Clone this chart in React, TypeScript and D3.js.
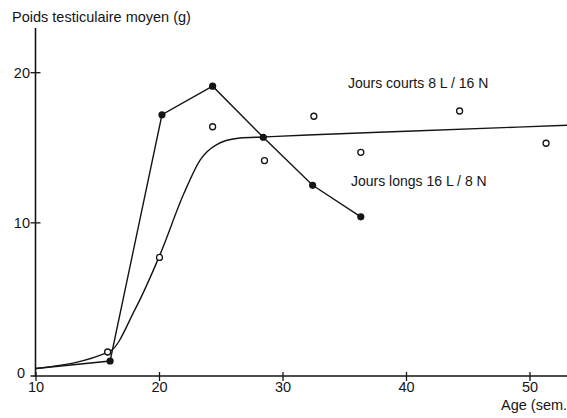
import React from "react";
import * as d3 from "d3";

const W = 567;
const H = 418;

// Long days 16 L / 8 N (filled points, polyline)
const longAges = [16, 20.2, 24.3, 28.4, 32.4, 36.3];
const longValues = [0.8, 17.2, 19.1, 15.7, 12.5, 10.4];
const longStart = { age: 10, value: 0.3 };

// Short days 8 L / 16 N (open points)
const shortAges = [15.8, 20.0, 24.3, 28.5, 32.5, 36.3, 44.3, 51.3];
const shortValues = [1.4, 7.7, 16.4, 14.15, 17.1, 14.7, 17.45, 15.3];

// Fitted curve for short days
const curveAges = [10, 16, 18, 20, 22, 23.3, 24.6, 26.5, 28.4, 32, 40, 53];
const curveValues = [0.3, 1.45, 4.2, 7.8, 12.0, 14.2, 15.2, 15.65, 15.72, 15.85, 16.1, 16.5];

const xTicks = [10, 20, 30, 40, 50];
const yTicks = [0, 10, 20];

const title = "Poids testiculaire moyen (g)";
const xTitle = "Age (sem.";
const labelShort = "Jours courts 8 L / 16 N";
const labelLong = "Jours longs 16 L / 8 N";

export default function App() {
  const x = d3.scaleLinear().domain([10, 50]).range([36, 530]);
  const y = d3.scaleLinear().domain([0, 20]).range([373, 72.7]);
  const axisY = y(0) + 3;
  const axisX = x(10) - 0.5;
  const font = "'Liberation Sans', Arial, Helvetica, sans-serif";
  const ink = "#151515";

  const longPts: [number, number][] = [
    [longStart.age, longStart.value],
    ...longAges.map((a, i) => [a, longValues[i]] as [number, number]),
  ];
  const lineGen = d3
    .line<[number, number]>()
    .x((d) => x(d[0]))
    .y((d) => y(d[1]));
  const curveGen = d3
    .line<[number, number]>()
    .x((d) => x(d[0]))
    .y((d) => y(d[1]))
    .curve(d3.curveMonotoneX);
  const curvePts: [number, number][] = curveAges.map((a, i) => [a, curveValues[i]]);

  return (
    <svg
      width={W}
      height={H}
      style={{ position: "absolute", left: 0, top: 0, background: "#fff" }}
    >
      <rect x={0} y={0} width={W} height={H} fill="#fff" />
      <defs>
        <clipPath id="plot">
          <rect x={axisX} y={0} width={W - axisX} height={H} />
        </clipPath>
      </defs>
      {/* axes */}
      <line x1={axisX} x2={axisX} y1={28} y2={axisY + 1} stroke={ink} strokeWidth={1.6} />
      <line x1={axisX - 5} x2={W} y1={axisY} y2={axisY} stroke={ink} strokeWidth={1.4} />
      {xTicks.map((t) => (
        <g key={"xt" + t}>
          <line x1={x(t)} x2={x(t)} y1={axisY - 4} y2={axisY + 5} stroke={ink} strokeWidth={1.3} />
          <text
            x={x(t)}
            y={392}
            textAnchor="middle"
            fontFamily={font}
            fontSize={14.5}
            fill={ink}
          >
            {t}
          </text>
        </g>
      ))}
      {yTicks.map((t) => (
        <g key={"yt" + t}>
          {t !== 0 && (
            <line x1={axisX - 5} x2={axisX + 5} y1={y(t)} y2={y(t)} stroke={ink} strokeWidth={1.3} />
          )}
          <text
            x={t === 0 ? 25 : 30}
            y={y(t)}
            dy="0.35em"
            textAnchor="end"
            fontFamily={font}
            fontSize={14.5}
            fill={ink}
          >
            {t}
          </text>
        </g>
      ))}
      <text x={12} y={22} fontFamily={font} fontSize={14.5} fill={ink}>
        {title}
      </text>
      <text x={501} y={410} fontFamily={font} fontSize={14.5} fill={ink}>
        {xTitle}
      </text>
      <text x={348} y={88} fontFamily={font} fontSize={14} fill={ink}>
        {labelShort}
      </text>
      <text x={351} y={186} fontFamily={font} fontSize={14} fill={ink}>
        {labelLong}
      </text>

      <g clipPath="url(#plot)">
        <path d={curveGen(curvePts) || ""} fill="none" stroke={ink} strokeWidth={1.4} />
        <path d={lineGen(longPts) || ""} fill="none" stroke={ink} strokeWidth={1.4} />
      </g>
      {shortAges.map((a, i) => (
        <circle
          key={"s" + i}
          cx={x(a)}
          cy={y(shortValues[i])}
          r={3}
          fill="#fff"
          stroke={ink}
          strokeWidth={1.3}
        />
      ))}
      {longAges.map((a, i) => (
        <circle key={"l" + i} cx={x(a)} cy={y(longValues[i])} r={3.6} fill={ink} />
      ))}
    </svg>
  );
}
